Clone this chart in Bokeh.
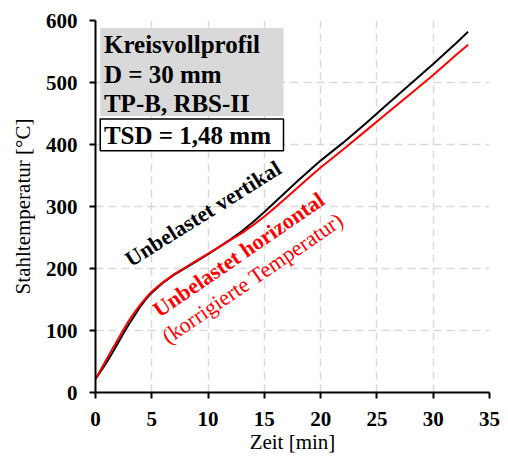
from bokeh.plotting import figure
from bokeh.models import Range1d, Label, FixedTicker
from bokeh.embed import file_html
from bokeh.resources import INLINE
import math

# ---- data ----
zeit = [0, 0.5, 1, 1.5, 2, 2.5, 3, 3.5, 4, 4.5, 5, 6, 7, 8, 9, 10, 11, 12, 13,
        14, 15, 16, 17, 18, 19, 20, 22, 24, 26, 28, 30, 32, 33.1]
temp_vertikal = [22, 35, 49, 64, 80, 96, 111, 125, 139, 151, 161, 177, 190,
                 201, 212, 223, 235, 247, 260, 275, 291, 308, 325, 342, 358,
                 374, 403, 434, 466, 498, 530, 563, 582]
temp_horizontal = [22, 38, 54, 70, 86, 102, 117, 130, 142, 153, 163, 178, 191,
                   202, 213, 224, 235, 246, 257, 270, 284, 299, 315, 331, 347,
                   363, 392, 422, 452, 482, 512, 544, 561]
x_ticks = [0, 5, 10, 15, 20, 25, 30, 35]
y_ticks = [0, 100, 200, 300, 400, 500, 600]

info_lines = ["Kreisvollprofil", "D = 30 mm", "TP-B, RBS-II"]
tsd_text = "TSD = 1,48 mm"
label_vertikal = "Unbelastet vertikal"
label_horizontal = "Unbelastet horizontal"
label_korr = "(korrigierte Temperatur)"

# annotation box extents (data units)
info_box = dict(left=0.42, right=16.7, bottom=446, top=588)
tsd_box = dict(left=0.42, right=16.7, bottom=390, top=441)

FONT = "Liberation Serif"

p = figure(width=500, height=456, output_backend="svg", toolbar_location=None,
           x_range=Range1d(0, 35), y_range=Range1d(0, 600),
           min_border_left=95, min_border_right=11, min_border_top=20,
           min_border_bottom=64)
p.outline_line_color = None
p.background_fill_color = "white"

for ax in (p.xaxis[0], p.yaxis[0]):
    ax.axis_line_color = "black"
    ax.axis_line_width = 2
    ax.major_tick_line_color = "black"
    ax.major_tick_line_width = 2
    ax.major_tick_in = 0
    ax.major_tick_out = 6
    ax.minor_tick_line_color = None
    ax.major_label_text_font = FONT
    ax.major_label_text_font_style = "bold"
    ax.major_label_text_font_size = "21px"
    ax.major_label_text_color = "black"
    ax.axis_label_text_font = FONT
    ax.axis_label_text_font_style = "normal"
    ax.axis_label_text_font_size = "21px"
    ax.axis_label_text_color = "black"

p.xaxis[0].ticker = FixedTicker(ticks=x_ticks)
p.yaxis[0].ticker = FixedTicker(ticks=y_ticks)
p.xaxis[0].axis_label = "Zeit [min]"
p.yaxis[0].axis_label = "Stahltemperatur [°C]"
p.xaxis[0].major_label_standoff = 13
p.xaxis[0].axis_label_standoff = 1
p.yaxis[0].major_label_standoff = 12
p.yaxis[0].axis_label_standoff = 8

for g in (p.xgrid[0], p.ygrid[0]):
    g.grid_line_color = "#d9d9d9"
    g.grid_line_width = 1.5
    g.grid_line_dash = "8 5"

# info boxes
p.quad(left=[info_box["left"]], right=[info_box["right"]],
       bottom=[info_box["bottom"]], top=[info_box["top"]],
       fill_color="#d9d9d9", line_color=None)
p.quad(left=[tsd_box["left"]], right=[tsd_box["right"]],
       bottom=[tsd_box["bottom"]], top=[tsd_box["top"]],
       fill_color="white", line_color="black", line_width=1.5)

p.line(zeit, temp_vertikal, line_color="black", line_width=2)
p.line(zeit, temp_horizontal, line_color="red", line_width=2)

for txt, yy in zip(info_lines, [562, 513, 466]):
    p.add_layout(Label(x=0.75, y=yy, text=txt, text_font=FONT,
                       text_font_style="bold", text_font_size="25px",
                       text_color="black", text_baseline="alphabetic"))
p.add_layout(Label(x=0.75, y=414, text=tsd_text, text_font=FONT,
                   text_font_style="bold", text_font_size="25px",
                   text_color="black", text_baseline="alphabetic"))

p.add_layout(Label(x=2.8, y=212, text=label_vertikal, text_font=FONT,
                   text_font_style="bold", text_font_size="22px",
                   text_color="black", text_baseline="alphabetic",
                   angle=math.radians(32)))
p.add_layout(Label(x=5.3, y=130, text=label_horizontal, text_font=FONT,
                   text_font_style="bold", text_font_size="22px",
                   text_color="red", text_baseline="alphabetic",
                   angle=math.radians(34.5)))
p.add_layout(Label(x=6.1, y=87, text=label_korr, text_font=FONT,
                   text_font_style="normal", text_font_size="22px",
                   text_color="red", text_baseline="alphabetic",
                   angle=math.radians(34.4)))

open("out.html", "w").write(file_html(p, INLINE))
